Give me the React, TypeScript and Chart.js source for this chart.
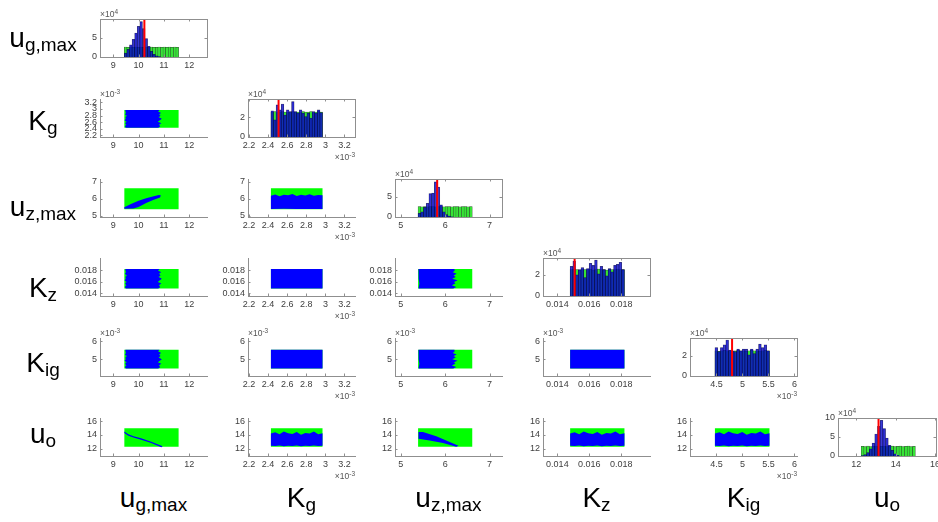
import React, { useEffect, useRef } from 'react';
import { Chart, registerables } from 'chart.js';
Chart.register(...registerables);

const FONT = "'Liberation Sans', Arial, Helvetica, sans-serif";

// ---------------- data ----------------
// parameter order (rows and columns)
const paramMain = ['u', 'K', 'u', 'K', 'K', 'u'];
const paramSub = ['g,max', 'g', 'z,max', 'z', 'ig', 'o'];
// K_g and K_ig are in units of 1e-3 ; histogram counts are in units of 1e4
const trueValues = [10.23, 2.51, 5.82, 0.01508, 4.8, 13.13];
const priorLow = [9.44, 2.43, 5.39, 0.0148, 4.47, 12.25];
const priorHigh = [11.58, 2.97, 6.61, 0.0182, 5.52, 15.0];
const postLow = [9.48, 2.43, 5.4, 0.0148, 4.47, 12.38];
const postHigh = [10.82, 2.97, 6.22, 0.0182, 5.52, 14.25];

// ragged edges of the posterior clouds (read along each edge)
const ugEdgeLow = [9.5, 9.46, 9.52, 9.47, 9.53, 9.45, 9.5, 9.48, 9.54, 9.46, 9.51, 9.47, 9.5];
const ugEdgeHigh = [10.78, 10.86, 10.8, 10.9, 10.76, 10.84, 10.92, 10.79, 10.87, 10.81, 10.89, 10.77, 10.83];
const kgEdgeLow = [2.43, 2.43];
const kgEdgeHigh = [2.97, 2.97];
const uzEdgeLow = [5.4, 5.42, 5.4, 5.41, 5.4];
const uzEdgeHigh = [6.18, 6.25, 6.15, 6.23, 6.2, 6.28, 6.16, 6.24, 6.19, 6.26, 6.17, 6.22, 6.2];
const kzEdgeLow = [0.0148, 0.0148];
const kzEdgeHigh = [0.0182, 0.0182];
const kigEdgeLow = [4.47, 4.47];
const kigEdgeHigh = [5.52, 5.52];
const uoEdgeLow = [12.42, 12.36, 12.44, 12.34, 12.4, 12.37, 12.45, 12.35, 12.41, 12.38, 12.43, 12.36, 12.4];
const uoEdgeHigh = [14.2, 14.4, 14.1, 14.5, 14.25, 14.15, 14.45, 14.05, 14.3, 14.2, 14.5, 14.1, 14.25];
const edgeLow = [ugEdgeLow, kgEdgeLow, uzEdgeLow, kzEdgeLow, kigEdgeLow, uoEdgeLow];
const edgeHigh = [ugEdgeHigh, kgEdgeHigh, uzEdgeHigh, kzEdgeHigh, kigEdgeHigh, uoEdgeHigh];

const xRanges = [[8.48, 12.7], [2.19, 3.31], [4.87, 7.28], [0.0131, 0.0198], [3.99, 6.05], [11.07, 16.05]];
const yRanges = [[0, 1], [2.15, 3.3], [4.94, 7.15], [0.0135, 0.0201], [4.05, 6.18], [10.9, 16.5]];
const xTicks = [[9, 10, 11, 12], [2.2, 2.4, 2.6, 2.8, 3, 3.2], [5, 6, 7], [0.014, 0.016, 0.018], [4.5, 5, 5.5, 6], [12, 14, 16]];
const yTicks = [[], [2.2, 2.4, 2.6, 2.8, 3, 3.2], [5, 6, 7], [0.014, 0.016, 0.018], [5, 6], [12, 14, 16]];
const histYMax = [9.9, 3.83, 9.4, 3.6, 3.77, 10];
const histYTicks = [[0, 5], [0, 2], [0, 5], [0, 2], [0, 2], [0, 5, 10]];
const thousandthUnits = [false, true, false, false, true, false];

// histogram counts (x 1e4), bins spanning the prior range
const greenUg = [2.6, 2.55, 2.6, 2.5, 2.6, 2.55, 2.6, 2.5, 2.6, 2.55, 2.6, 2.5, 2.55, 2.6, 2.5, 2.6, 2.55, 2.6, 2.5, 2.6, 2.55];
const blueUg = [1.0, 2.0, 3.2, 4.6, 6.2, 8.0, 9.2, 7.4, 4.8, 2.8, 1.5, 0.7, 0.3, 0.1, 0, 0, 0, 0, 0, 0, 0];
const greenKg = [2.5, 2.55, 2.45, 2.5, 2.55, 2.5, 2.45, 2.5, 2.55, 2.5, 2.5, 2.45, 2.55, 2.5, 2.5, 2.55, 2.45, 2.5, 2.55, 2.5];
const blueKg = [2.63, 1.73, 3.23, 2.73, 3.33, 2.2, 2.73, 2.57, 3.57, 2.57, 2.4, 2.73, 2.4, 2.07, 2.4, 1.9, 2.57, 2.4, 2.73, 2.47];
const greenUz = [2.55, 2.5, 2.6, 2.5, 2.55, 2.6, 2.5, 2.55, 2.6, 2.5, 2.55, 2.6, 2.5, 2.55, 2.6, 2.5, 2.55, 2.6, 2.5, 2.55];
const blueUz = [0.9, 1.3, 2.4, 3.4, 5.8, 5.9, 8.7, 7.4, 3.0, 1.3, 0.6, 0.2, 0.05, 0, 0, 0, 0, 0, 0, 0];
const greenKz = [2.5, 2.55, 2.5, 2.45, 2.55, 2.5, 2.5, 2.55, 2.45, 2.5, 2.55, 2.5, 2.5, 2.45, 2.55, 2.5, 2.5, 2.55, 2.5, 2.5];
const blueKz = [2.8, 3.3, 2.0, 2.5, 2.7, 1.75, 2.6, 3.1, 2.9, 3.4, 2.1, 2.8, 2.5, 1.9, 2.6, 2.3, 2.9, 3.0, 3.2, 2.5];
const greenKig = [2.5, 2.45, 2.5, 2.55, 2.5, 2.5, 2.45, 2.5, 2.55, 2.5, 2.5, 2.45, 2.5, 2.55, 2.5, 2.5, 2.45, 2.5, 2.55, 2.5];
const blueKig = [2.83, 2.43, 2.83, 3.1, 3.57, 2.57, 2.5, 2.43, 2.67, 2.5, 2.67, 2.67, 2.1, 2.67, 2.23, 2.67, 3.17, 2.83, 3.1, 2.5];
const greenUo = [2.55, 2.5, 2.6, 2.5, 2.55, 2.6, 2.5, 2.55, 2.6, 2.5, 2.55, 2.6, 2.5, 2.55, 2.6, 2.5, 2.55, 2.6, 2.5, 2.55];
const blueUo = [0.1, 0.4, 0.9, 1.9, 3.4, 5.8, 7.8, 9.4, 7.2, 4.7, 2.8, 1.5, 0.6, 0.2, 0, 0, 0, 0, 0, 0];
const greenCounts = [greenUg, greenKg, greenUz, greenKz, greenKig, greenUo];
const blueCounts = [blueUg, blueKg, blueUz, blueKz, blueKig, blueUo];

// correlated posterior clouds (outline vertices, data units)
const blueUgUz = [[9.44, 5.5], [9.7, 5.7], [10.0, 5.88], [10.3, 6.03], [10.6, 6.15], [10.8, 6.22], [10.88, 6.2], [10.85, 6.08], [10.6, 5.95], [10.3, 5.75], [10.0, 5.52], [9.8, 5.44], [9.44, 5.42]];
const blueUgUo = [[9.44, 14.5], [9.6, 14.1], [9.8, 13.8], [10.1, 13.5], [10.5, 13.0], [10.95, 12.35], [10.9, 12.2], [10.5, 12.8], [10.1, 13.3], [9.8, 13.62], [9.6, 13.9], [9.44, 14.3]];
const blueUzUo = [[5.4, 14.45], [5.5, 14.45], [5.8, 13.8], [6.05, 13.1], [6.3, 12.4], [6.25, 12.28], [5.95, 12.8], [5.65, 13.2], [5.4, 13.45]];
const specialClouds: Record<string, number[][]> = { '0-2': blueUgUz, '0-5': blueUgUo, '2-5': blueUzUo };

// ---------------- layout ----------------
const colLeft = [100, 248, 395, 543, 690, 838];
const colWidth = [107, 107, 107, 107, 107, 98];
const rowTop = [19, 99, 179, 258, 338, 418];
const boxH = 38;
const PAD_L = 40, PAD_T = 4, PAD_R = 12, PAD_B = 18;
const rowLabelBaseline = [48, 131, 217, 298, 373, 444];
const colLabelBaseline = 508;

const TICK_COLOR = '#404040';
const AXIS_COLOR = '#8f8f8f';

function fmt(v: number) {
  return String(Number(v.toFixed(6)));
}

const frameTicks = {
  id: 'frameTicks',
  afterDatasetsDraw(chart: any, _a: any, opts: any) {
    const { ctx, chartArea: a, scales } = chart;
    ctx.save();
    ctx.strokeStyle = AXIS_COLOR;
    ctx.lineWidth = 1;
    const L = 2.5;
    ctx.beginPath();
    for (const t of scales.x.ticks) {
      const p = Math.round(scales.x.getPixelForValue(t.value)) + 0.5;
      ctx.moveTo(p, a.bottom); ctx.lineTo(p, a.bottom - L);
      if (opts.box) { ctx.moveTo(p, a.top); ctx.lineTo(p, a.top + L); }
    }
    for (const t of scales.y.ticks) {
      const p = Math.round(scales.y.getPixelForValue(t.value)) + 0.5;
      ctx.moveTo(a.left, p); ctx.lineTo(a.left + L, p);
      if (opts.box) { ctx.moveTo(a.right, p); ctx.lineTo(a.right - L, p); }
    }
    ctx.stroke();
    if (opts.box) {
      ctx.strokeRect(Math.round(a.left) + 0.5, Math.round(a.top) + 0.5, Math.round(a.right - a.left), Math.round(a.bottom - a.top));
    }
    ctx.restore();
  },
};

function makeScale(min: number, max: number, ticks: number[], isX: boolean) {
  return {
    type: 'linear',
    min,
    max,
    offset: false,
    grid: { display: false, drawTicks: false },
    border: { display: true, color: AXIS_COLOR, width: 1 },
    ticks: {
      font: { family: FONT, size: 9 },
      color: TICK_COLOR,
      padding: 3,
      autoSkip: false,
      maxRotation: 0,
      minRotation: 0,
      callback: (v: number) => fmt(v),
    },
    afterBuildTicks: (s: any) => {
      s.ticks = ticks.map((v) => ({ value: v }));
    },
    afterFit: (s: any) => {
      if (isX) s.height = PAD_B; else s.width = PAD_L;
      s.paddingLeft = 0; s.paddingRight = 0; s.paddingTop = 0; s.paddingBottom = 0;
    },
  };
}

function histConfig(p: number) {
  const n = greenCounts[p].length;
  const w = (priorHigh[p] - priorLow[p]) / n;
  const centers = greenCounts[p].map((_, i) => priorLow[p] + w * (i + 0.5));
  const green = greenCounts[p].map((v, i) => ({ x: centers[i], y: v }));
  const blue = blueCounts[p].map((v, i) => ({ x: centers[i], y: v })).filter((d) => d.y > 0);
  return {
    type: 'bar',
    data: {
      datasets: [
        {
          type: 'line',
          data: [{ x: trueValues[p], y: 0 }, { x: trueValues[p], y: histYMax[p] }],
          borderColor: '#ff0000',
          borderWidth: 2,
          pointRadius: 0,
          order: 0,
        },
        {
          data: blue,
          backgroundColor: 'rgba(10,10,205,0.8)',
          borderColor: 'rgba(0,0,40,0.7)',
          borderWidth: 0.5,
          grouped: false,
          barPercentage: 1,
          categoryPercentage: 1,
          order: 1,
        },
        {
          data: green,
          backgroundColor: '#36e436',
          borderColor: 'rgba(20,40,20,0.85)',
          borderWidth: 0.5,
          grouped: false,
          barPercentage: 1,
          categoryPercentage: 1,
          order: 2,
        },
      ],
    },
    options: {
      animation: false,
      responsive: false,
      layout: { padding: { top: PAD_T, right: PAD_R, left: 0, bottom: 0 } },
      plugins: { legend: { display: false }, tooltip: { enabled: false }, frameTicks: { box: true } },
      scales: {
        x: makeScale(xRanges[p][0], xRanges[p][1], xTicks[p], true),
        y: makeScale(0, histYMax[p], histYTicks[p], false),
      },
    },
    plugins: [frameTicks],
  };
}

function poly(pts: number[][]) {
  return pts.map(([x, y]) => ({ x, y }));
}
function rect(x0: number, x1: number, y0: number, y1: number) {
  return poly([[x0, y0], [x1, y0], [x1, y1], [x0, y1]]);
}

// outline of a posterior cloud with ragged edges: bottom, right, top, left
function cloud(c: number, r: number) {
  const x0 = postLow[c], x1 = postHigh[c], y0 = postLow[r], y1 = postHigh[r];
  const pts: { x: number; y: number }[] = [];
  const yl = edgeLow[r], yh = edgeHigh[r], xl = edgeLow[c], xh = edgeHigh[c];
  yl.forEach((v, i) => pts.push({ x: x0 + ((x1 - x0) * i) / (yl.length - 1), y: v }));
  xh.forEach((v, i) => pts.push({ x: v, y: y0 + ((y1 - y0) * i) / (xh.length - 1) }));
  yh.slice().reverse().forEach((v, i) => pts.push({ x: x1 - ((x1 - x0) * i) / (yh.length - 1), y: v }));
  xl.slice().reverse().forEach((v, i) => pts.push({ x: v, y: y1 - ((y1 - y0) * i) / (xl.length - 1) }));
  return pts;
}

function scatterConfig(r: number, c: number) {
  const special = specialClouds[`${c}-${r}`];
  const blue = special ? poly(special) : cloud(c, r);
  const green = rect(priorLow[c], priorHigh[c], priorLow[r], priorHigh[r]);
  const shape = (data: any[], color: string, order: number) => ({
    data,
    showLine: true,
    fill: 'shape',
    backgroundColor: color,
    borderColor: color,
    borderWidth: 0,
    pointRadius: 0,
    order,
  });
  return {
    type: 'line',
    data: { datasets: [shape(blue, '#0000ff', 0), shape(green, '#00ff00', 1)] },
    options: {
      animation: false,
      responsive: false,
      layout: { padding: { top: PAD_T, right: PAD_R, left: 0, bottom: 0 } },
      plugins: { legend: { display: false }, tooltip: { enabled: false }, frameTicks: { box: false } },
      scales: {
        x: makeScale(xRanges[c][0], xRanges[c][1], xTicks[c], true),
        y: makeScale(yRanges[r][0], yRanges[r][1], yTicks[r], false),
      },
    },
    plugins: [frameTicks],
  };
}

function Panel({ r, c }: { r: number; c: number }) {
  const ref = useRef<HTMLCanvasElement>(null);
  const w = colWidth[c] + PAD_L + PAD_R;
  const h = boxH + PAD_T + PAD_B;
  useEffect(() => {
    const cfg: any = r === c ? histConfig(c) : scatterConfig(r, c);
    const chart = new Chart(ref.current as HTMLCanvasElement, cfg);
    return () => chart.destroy();
  }, [r, c]);
  return (
    <canvas
      ref={ref}
      width={w}
      height={h}
      style={{ position: 'absolute', left: colLeft[c] - PAD_L, top: rowTop[r] - PAD_T, width: w, height: h }}
    />
  );
}

function Expo({ left, right, top, exp }: { left?: number; right?: number; top: number; exp: string }) {
  const style: any = {
    position: 'absolute',
    top,
    fontFamily: FONT,
    fontSize: 8.5,
    lineHeight: '10px',
    color: '#555',
    whiteSpace: 'nowrap',
  };
  if (left !== undefined) style.left = left;
  if (right !== undefined) style.left = right;
  if (right !== undefined) style.transform = 'translateX(-100%)';
  return (
    <div style={style}>
      ×10<span style={{ fontSize: 6.5, position: 'relative', top: -3 }}>{exp}</span>
    </div>
  );
}

function BigLabel({ cx, baseline, main, sub }: { cx: number; baseline: number; main: string; sub: string }) {
  return (
    <div
      style={{
        position: 'absolute',
        left: cx,
        top: baseline - 23.7,
        transform: 'translateX(-50%)',
        fontFamily: FONT,
        fontSize: 28,
        lineHeight: '28px',
        whiteSpace: 'nowrap',
        color: '#000',
      }}
    >
      {main}
      <span style={{ fontSize: 19, position: 'relative', top: 4 }}>{sub}</span>
    </div>
  );
}

export default function App() {
  const panels: React.ReactNode[] = [];
  const extras: React.ReactNode[] = [];
  for (let r = 0; r < 6; r++) {
    for (let c = 0; c <= r; c++) {
      panels.push(<Panel key={`p${r}-${c}`} r={r} c={c} />);
      const bottom = rowTop[r] + boxH;
      if (r === c) {
        extras.push(<Expo key={`h${r}`} left={colLeft[c]} top={rowTop[r] - 10} exp="4" />);
      } else if (thousandthUnits[r]) {
        extras.push(<Expo key={`y${r}-${c}`} left={colLeft[c]} top={rowTop[r] - 10} exp="-3" />);
      }
      if (thousandthUnits[c]) {
        extras.push(<Expo key={`x${r}-${c}`} right={colLeft[c] + colWidth[c]} top={bottom + 15} exp="-3" />);
      }
    }
  }
  const labels: React.ReactNode[] = [];
  for (let i = 0; i < 6; i++) {
    labels.push(<BigLabel key={`rl${i}`} cx={43} baseline={rowLabelBaseline[i]} main={paramMain[i]} sub={paramSub[i]} />);
    labels.push(
      <BigLabel key={`cl${i}`} cx={colLeft[i] + colWidth[i] / 2} baseline={colLabelBaseline} main={paramMain[i]} sub={paramSub[i]} />
    );
  }
  return (
    <div style={{ position: 'absolute', left: 0, top: 0, width: 938, height: 522, overflow: 'hidden', background: '#fff' }}>
      {panels}
      {extras}
      {labels}
    </div>
  );
}
